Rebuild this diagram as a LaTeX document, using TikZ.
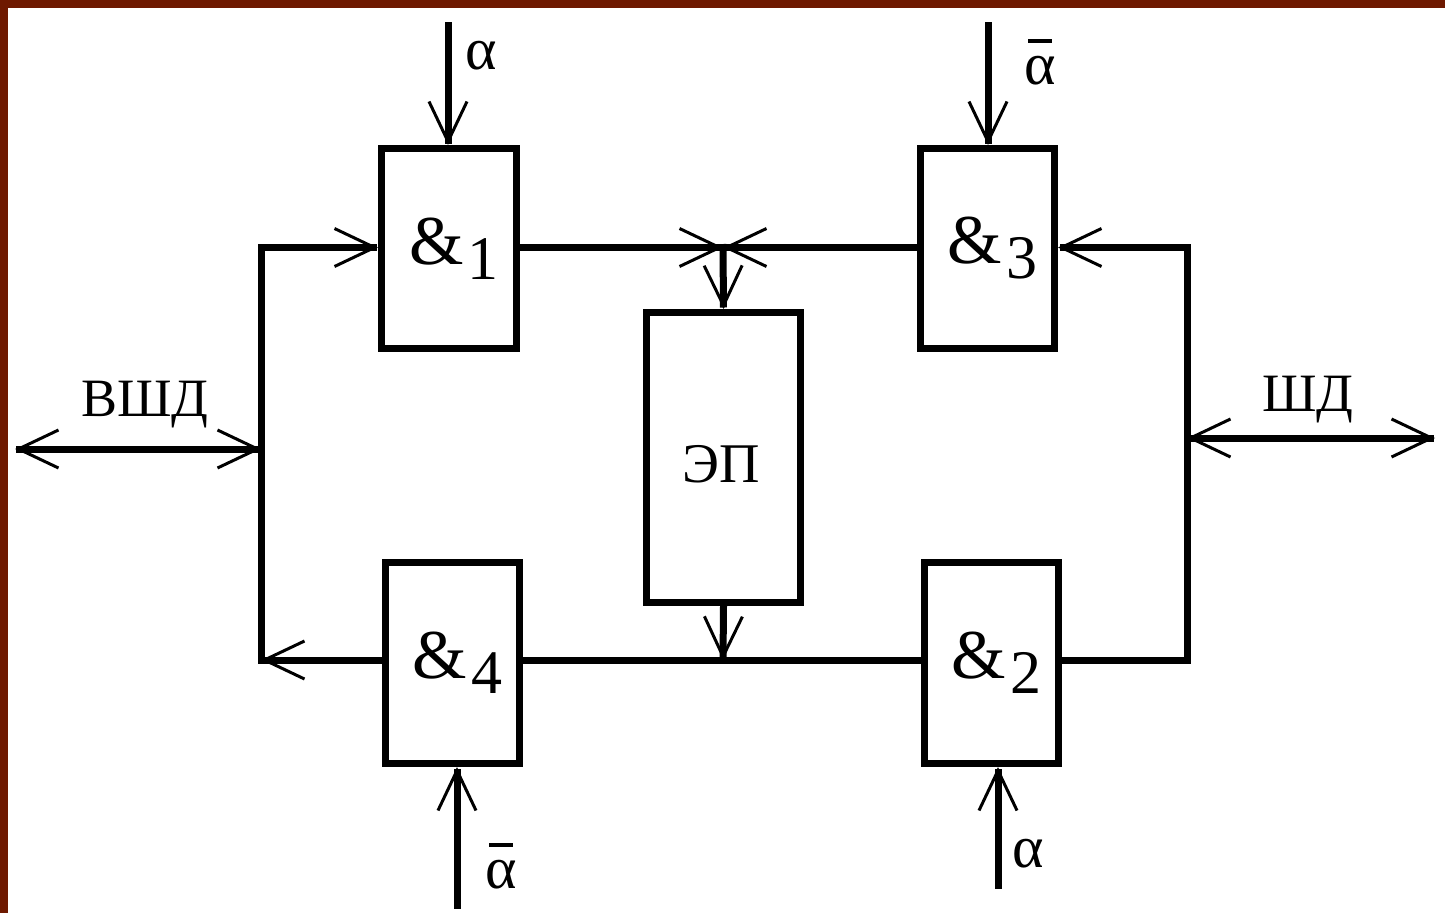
\documentclass[tikz,border=0pt]{standalone}
\usepackage{fontspec}
\setmainfont{Liberation Serif}
\usetikzlibrary{arrows.meta}
\definecolor{framecol}{RGB}{110,25,0}
\tikzset{
  barb/.tip={Straight Barb[length=40pt,width=38pt,line width=3pt]},
  blk/.style={draw,line width=7pt,rectangle,inner sep=0pt},
  wire/.style={line width=7pt,line cap=rect,line join=miter},
  lbl/.style={inner sep=0pt,font=\fontsize{54}{62}\selectfont},
  alab/.style={inner sep=0pt,font=\fontsize{60}{70}\selectfont},
}
\newcommand\andn[1]{\kern10pt{\fontsize{70}{76}\selectfont\&}\kern4pt\raisebox{-15pt}{\fontsize{62}{70}\selectfont #1}}
\newcommand\abar{\vbox{\offinterlineskip\halign{\hfil##\hfil\cr\vrule width 24pt height 3.5pt depth 0pt\cr\noalign{\kern 13pt}α\cr}}}
\begin{document}
\begin{tikzpicture}[x=1pt,y=-1pt]
\useasboundingbox (0,0) rectangle (1445,913);
\fill[white] (0,0) rectangle (1445,913);
\fill[framecol] (0,0) rectangle (1445,8);
\fill[framecol] (0,0) rectangle (8,913);

% blocks
\node[blk,minimum width=135pt,minimum height=200pt] (a1) at (449,248.5) {\andn{1}};
\node[blk,minimum width=134pt,minimum height=200pt] (a3) at (987.5,248.5) {\andn{3}};
\node[blk,minimum width=154pt,minimum height=290pt] (ep) at (723.5,457.5) {};
\node[lbl,font=\fontsize{56}{64}\selectfont] (epl) at (721,464) {ЭП};
\node[blk,minimum width=134pt,minimum height=201pt] (a4) at (452.5,663) {\andn{4}};
\node[blk,minimum width=134pt,minimum height=201pt] (a2) at (991.5,663) {\andn{2}};

% junction coordinates
\coordinate (jt) at (723,247.5);
\coordinate (jb) at (723,660);
\coordinate (lt) at (261,247.5);
\coordinate (lb) at (261,660);
\coordinate (lm) at (261,449);
\coordinate (rt) at (1187,247.5);
\coordinate (rb) at (1187,660);
\coordinate (rm) at (1187,438);
\coordinate (vsh) at (15,449);
\coordinate (sh) at (1435,438);
\coordinate (in1) at (448,25);
\coordinate (in3) at (988,25);
\coordinate (in4) at (457,905);
\coordinate (in2) at (998,885);

% connectors
\draw[wire,-barb] (lb) -- (lt) -- (lt -| a1.west);
\draw[wire,-barb] (jt -| a1.east) -- (jt);
\draw[wire,-barb] (jt -| a3.west) -- (jt);
\draw[wire,-barb] (jt) -- (ep.north);
\draw[wire,-barb] (ep.south) -- (jb);
\draw[wire] (jb -| a4.east) -- (jb -| a2.west);
\draw[wire,-barb] (jb -| a4.west) -- (lb);
\draw[wire,-barb] (jb -| a2.east) -- (rb) -- (rt) -- (rt -| a3.east);
\draw[wire,barb-barb] (vsh) -- (lm);
\draw[wire,barb-barb] (rm) -- (sh);
\draw[wire,-barb] (in1) -- (in1 |- a1.north);
\draw[wire,-barb] (in3) -- (in3 |- a3.north);
\draw[wire,-barb] (in4) -- (in4 |- a4.south);
\draw[wire,-barb] (in2) -- (in2 |- a2.south);

% labels
\node[lbl] (vshd) at (145,405) {ВШД};
\node[lbl] (shd) at (1308,400) {ШД};
\node[alab] (al1) at (481,56) {α};
\node[alab] (al3) at (1040,62) {\abar};
\node[alab] (al4) at (501,866) {\abar};
\node[alab] (al2) at (1028,854) {α};
\end{tikzpicture}
\end{document}
